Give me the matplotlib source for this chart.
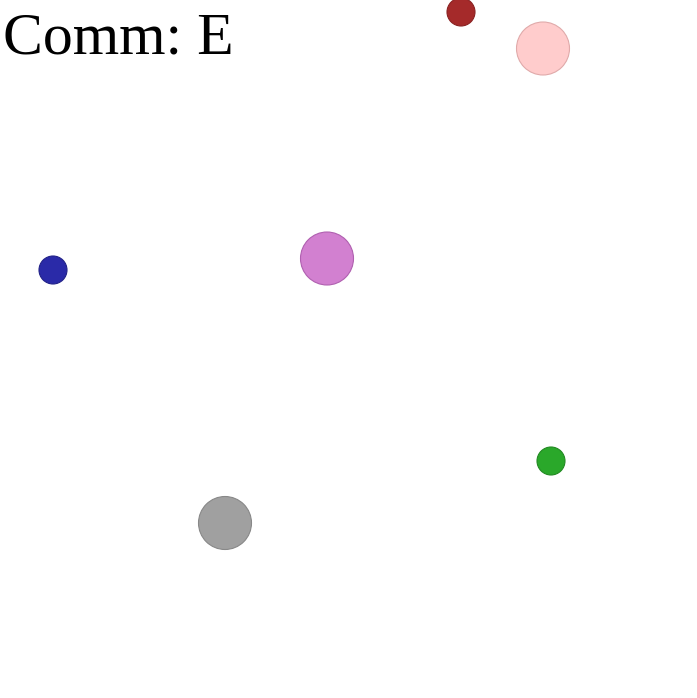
import matplotlib
matplotlib.use("Agg")
import matplotlib.pyplot as plt

# --- DATA ---
TITLE = "Comm: E"
x_vals = [461, 543, 53, 327, 551, 225]
y_vals = [12, 48.5, 270, 258.5, 461, 523]
radius_px = [14, 26.5, 14, 26.5, 14, 26.5]
face_colors = ["#a52a2a", "#ffcccc", "#2a2aa8", "#d280d0", "#2aa82a", "#a0a0a0"]
edge_colors = ["#8a2222", "#e0aaaa", "#222288", "#b060b0", "#228a22", "#888888"]

W, H, DPI = 697, 698, 100

fig = plt.figure(figsize=(W / DPI, H / DPI), dpi=DPI)
ax = fig.add_axes([0, 0, 1, 1])
ax.set_xlim(0, W)
ax.set_ylim(H, 0)
ax.axis("off")

# marker size in points^2 from pixel radius
sizes = [(2 * r * 72 / DPI) ** 2 for r in radius_px]
ax.scatter(x_vals, y_vals, s=sizes, c=face_colors, edgecolors=edge_colors,
           linewidths=0.8, zorder=3, clip_on=False)

fig.text(3 / W, 1 - 54 / H, TITLE, family="Liberation Serif", fontsize=43,
         ha="left", va="baseline")

fig.savefig("out.png", dpi=DPI, facecolor="white")
